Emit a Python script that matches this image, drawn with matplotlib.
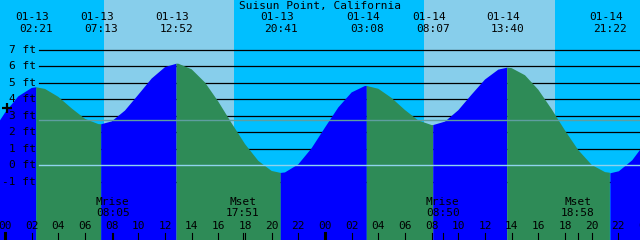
import matplotlib
matplotlib.use("Agg")
import matplotlib.pyplot as plt
import matplotlib.transforms as mtransforms
import numpy as np

# -----------------------
# Data
# -----------------------
TITLE = "Suisun Point, California"

# tide extremes
event_dates = ["01-13", "01-13", "01-13", "01-13", "01-14", "01-14", "01-14", "01-14"]
event_times = ["02:21", "07:13", "12:52", "20:41", "03:08", "08:07", "13:40", "21:22"]
event_heights = [4.71, 2.47, 6.14, -0.48, 4.79, 2.42, 5.90, -0.47]

# hourly tide heights (ft), hours counted from 01-13 00:00
hourly_hours = list(range(-1, 49))
hourly_heights = [
    1.93, 3.17, 4.16, 4.67, 4.61, 4.13, 3.43, 2.80, 2.48, 2.64,
    3.30, 4.26, 5.24, 5.93, 6.14, 5.80, 5.00, 3.84, 2.53, 1.27,
    0.25, -0.36, -0.45, 0.04, 1.02, 2.27, 3.49, 4.40, 4.79, 4.62,
    4.06, 3.33, 2.70, 2.42, 2.63, 3.32, 4.27, 5.18, 5.78, 5.87,
    5.44, 4.56, 3.38, 2.09, 0.90, 0.01, -0.43, -0.35, 0.31, 1.39,
]

# sunrise / sunset (daylight bands)
sun_rise = ["01-13 07:25", "01-14 07:25"]
sun_set = ["01-13 17:10", "01-14 17:15"]

# moon events
moon_labels = ["Mrise", "Mset", "Mrise", "Mset"]
moon_times = ["01-13 08:05", "01-13 17:51", "01-14 08:50", "01-14 18:58"]

level_ticks = [-1, 0, 1, 2, 3, 4, 5, 6, 7]
MSL = 2.71
NOW_MARK = (0.17, 3.44)

DAY_COLOR = "#87ceeb"
NIGHT_COLOR = "#00bfff"
FLOOD_COLOR = "#0000ff"
EBB_COLOR = "#2e8b57"
DATUM_COLOR = "#8fd3ee"
MSL_COLOR = "#5f9ea0"

FONT = "DejaVu Sans Mono"
FS = 8


def to_hours(stamp):
    """'MM-DD HH:MM' -> hours from 01-13 00:00"""
    date, clock = stamp.split()
    day = int(date.split("-")[1]) - 13
    hh, mm = clock.split(":")
    return day * 24 + int(hh) + int(mm) / 60.0


event_hours = [to_hours(f"{d} {t}") for d, t in zip(event_dates, event_times)]

# -----------------------
# Figure
# -----------------------
fig = plt.figure(figsize=(6.4, 2.4), dpi=100)
ax = fig.add_axes([0, 0, 1, 1])
ax.set_xlim(-0.375, 47.625)
ax.set_ylim(-4.545, 10.0)
ax.set_axis_off()
ax.set_facecolor(NIGHT_COLOR)
ax.axvspan(-5, 60, color=NIGHT_COLOR, zorder=0)
for r, s in zip(sun_rise, sun_set):
    ax.axvspan(to_hours(r), to_hours(s), color=DAY_COLOR, lw=0, zorder=0)

# grid lines behind the tide
grid_start = 39 / 640
for lvl in level_ticks:
    if lvl == 0:
        continue
    ax.axhline(lvl, xmin=grid_start, xmax=1, color="black", lw=0.9, zorder=1)

# tide curve, coloured by flood / ebb
t_all = np.array(hourly_hours + event_hours, dtype=float)
h_all = np.array(hourly_heights + event_heights, dtype=float)
order = np.argsort(t_all)
t_all, h_all = t_all[order], h_all[order]

bounds = [hourly_hours[0]] + event_hours + [hourly_hours[-1]]
for a, b in zip(bounds[:-1], bounds[1:]):
    m = (t_all >= a) & (t_all <= b)
    ts, hs = t_all[m], h_all[m]
    color = FLOOD_COLOR if hs[-1] > hs[0] else EBB_COLOR
    ax.fill_between(ts, hs, -10, color=color, lw=0, zorder=2)

# datum and mean sea level lines on top
ax.axhline(0, xmin=grid_start, xmax=1, color=DATUM_COLOR, lw=1.0, zorder=3)
ax.axhline(MSL, xmin=grid_start, xmax=1, color=MSL_COLOR, lw=1.0, zorder=3)

# level labels
for lvl in level_ticks:
    ax.annotate(f"{lvl} ft", xy=(36 / 640, lvl), xycoords=("axes fraction", "data"),
                ha="right", va="center", fontsize=FS, family=FONT, zorder=5)

ax.plot(*NOW_MARK, marker="+", ms=7, mew=1.6, color="black", zorder=5)

# title and extreme labels
ax.text(0.5, 0.975, TITLE, transform=ax.transAxes, ha="center", va="center",
        fontsize=FS, family=FONT, zorder=5)
xtr = ax.get_xaxis_transform()
date_tr = mtransforms.offset_copy(xtr, fig=fig, x=-4, y=0, units="dots")
for d, tm, th in zip(event_dates, event_times, event_hours):
    ax.text(th, 1 - 17 / 240, d, transform=date_tr, ha="center", va="center",
            fontsize=FS, family=FONT, zorder=5)
    ax.text(th, 1 - 29 / 240, tm, transform=xtr, ha="center", va="center",
            fontsize=FS, family=FONT, zorder=5)

# moon labels
for lab, st in zip(moon_labels, moon_times):
    th = to_hours(st)
    ax.text(th, 1 - 202 / 240, lab, transform=xtr, ha="center", va="center",
            fontsize=FS, family=FONT, zorder=5)
    ax.text(th, 1 - 213 / 240, st.split()[1], transform=xtr, ha="center", va="center",
            fontsize=FS, family=FONT, zorder=5)
    ax.plot([th, th], [0, 7 / 240], transform=xtr, color="black", lw=0.8, zorder=5)

# hour ticks along the bottom
for hr in range(0, 49, 2):
    ax.text(hr, 1 - 226 / 240, f"{hr % 24:02d}", transform=xtr, ha="center", va="center",
            fontsize=FS, family=FONT, zorder=5)
    lw = 2.2 if hr % 24 == 0 else 0.8
    ax.plot([hr, hr], [0, 7 / 240], transform=xtr, color="black", lw=lw, zorder=5)

fig.savefig("out.png", dpi=100)
plt.close(fig)
